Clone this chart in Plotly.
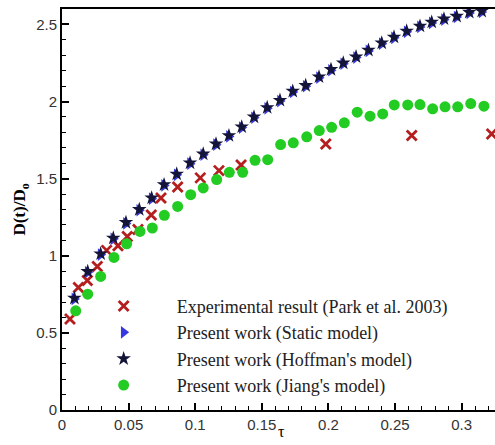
import plotly.graph_objects as go

# Experimental result (Park et al. 2003)
exp_tau = [0.006, 0.0123, 0.019, 0.0265, 0.0335, 0.042, 0.049, 0.057, 0.067, 0.0743,
           0.0868, 0.1038, 0.1178, 0.1344, 0.198, 0.2625, 0.3225]
exp_d = [0.59, 0.794, 0.84, 0.93, 1.035, 1.065, 1.125, 1.17, 1.264, 1.375,
         1.446, 1.505, 1.552, 1.589, 1.725, 1.78, 1.79]

# Present work (Hoffman's model)
hof_tau = [0.0093, 0.0193, 0.029, 0.0385, 0.048, 0.058, 0.0673, 0.0766, 0.0861, 0.0961,
           0.106, 0.1156, 0.1253, 0.1349, 0.1441, 0.154, 0.1636, 0.1732, 0.1829, 0.1929,
           0.2019, 0.2111, 0.2207, 0.23, 0.24, 0.2492, 0.2587, 0.2687, 0.2775, 0.2867,
           0.2962, 0.3057, 0.315]
hof_d = [0.725, 0.898, 1.013, 1.115, 1.216, 1.30, 1.375, 1.461, 1.53, 1.602,
         1.66, 1.725, 1.779, 1.836, 1.90, 1.961, 2.008, 2.067, 2.104, 2.16,
         2.208, 2.25, 2.29, 2.333, 2.38, 2.418, 2.457, 2.489, 2.515, 2.536,
         2.553, 2.579, 2.586]

# Present work (Static model)
sta_tau = [0.0093, 0.0193, 0.029, 0.0385, 0.048, 0.058, 0.0673, 0.0766, 0.0861, 0.0961,
           0.106, 0.1156, 0.1253, 0.1349, 0.1441, 0.154, 0.1636, 0.1732, 0.1829, 0.1929,
           0.2019, 0.2111, 0.2207, 0.23, 0.24, 0.2492, 0.2587, 0.2687, 0.2775, 0.2867,
           0.2962, 0.3057, 0.315]
sta_d = [0.72, 0.893, 1.008, 1.11, 1.21, 1.295, 1.37, 1.456, 1.525, 1.597,
         1.655, 1.72, 1.774, 1.831, 1.895, 1.956, 2.003, 2.062, 2.099, 2.155,
         2.203, 2.245, 2.285, 2.328, 2.375, 2.413, 2.452, 2.484, 2.51, 2.531,
         2.548, 2.574, 2.581]

# Present work (Jiang's model)
jia_tau = [0.0103, 0.0193, 0.029, 0.039, 0.0485, 0.0585, 0.0678, 0.0768, 0.0868, 0.0966,
           0.106, 0.1161, 0.1256, 0.1356, 0.1449, 0.1544, 0.1641, 0.1736, 0.1837, 0.1931,
           0.2024, 0.2119, 0.2216, 0.2312, 0.2407, 0.2494, 0.2595, 0.2687, 0.2782, 0.2875,
           0.297, 0.3068, 0.3167]
jia_d = [0.643, 0.751, 0.866, 0.989, 1.078, 1.158, 1.18, 1.262, 1.32, 1.396,
         1.44, 1.494, 1.541, 1.541, 1.619, 1.623, 1.721, 1.732, 1.771, 1.812,
         1.833, 1.862, 1.931, 1.905, 1.92, 1.978, 1.978, 1.98, 1.953, 1.966,
         1.966, 1.987, 1.97]

names = ["Experimental result (Park et al. 2003)",
         "Present work (Static model)",
         "Present work (Hoffman's model)",
         "Present work (Jiang's model)"]

serif = "Liberation Serif, Times New Roman, serif"

fig = go.Figure()
fig.add_trace(go.Scatter(x=exp_tau, y=exp_d, mode="markers", name=names[0],
                         marker=dict(symbol="x-thin", size=10, line=dict(color="#b41e1e", width=2.8),
                                     color="#b41e1e")))
fig.add_trace(go.Scatter(x=sta_tau, y=sta_d, mode="markers", name=names[1],
                         marker=dict(symbol="triangle-right", size=11, color="#3838e0")))
fig.add_trace(go.Scatter(x=hof_tau, y=hof_d, mode="markers", name=names[2],
                         marker=dict(symbol="star", size=11, color="#141438")))
fig.add_trace(go.Scatter(x=jia_tau, y=jia_d, mode="markers", name=names[3],
                         marker=dict(symbol="circle", size=11, color="#22cc22")))

tickfont = dict(family="Liberation Sans, Arial, sans-serif", size=15, color="#333333")
fig.update_layout(
    width=495, height=445,
    margin=dict(l=62, r=0, t=9, b=35),
    paper_bgcolor="white", plot_bgcolor="white",
    showlegend=True,
    legend=dict(x=0.02, y=0.305, xanchor="left", yanchor="top",
                font=dict(family=serif, size=18, color="#222222"),
                itemwidth=96, bgcolor="rgba(0,0,0,0)", tracegroupgap=0),
    xaxis=dict(range=[0, 0.325], tickvals=[0, 0.05, 0.1, 0.15, 0.2, 0.25, 0.3],
               ticktext=["0", "0.05", "0.1", "0.15", "0.2", "0.25", "0.3"],
               ticks="inside", ticklen=7, tickwidth=2, tickcolor="black",
               minor=dict(dtick=0.01, tick0=0, ticks="inside", ticklen=4, tickwidth=1, tickcolor="black"),
               showline=True, linecolor="black", linewidth=2, mirror=True,
               showgrid=False, zeroline=False, tickfont=tickfont, automargin=False),
    yaxis=dict(range=[0, 2.6], tickvals=[0, 0.5, 1, 1.5, 2, 2.5],
               ticktext=["0", "0.5", "1", "1.5", "2", "2.5"],
               ticks="inside", ticklen=7, tickwidth=2, tickcolor="black",
               minor=dict(dtick=0.1, tick0=0, ticks="inside", ticklen=4, tickwidth=1, tickcolor="black"),
               showline=True, linecolor="black", linewidth=2, mirror=False,
               showgrid=False, zeroline=False, tickfont=tickfont, automargin=False,
               title=dict(text="<b>D(t)/D<sub>o</sub></b>",
                          font=dict(family=serif, size=17, color="black"),
                          standoff=6)),
    annotations=[dict(text="τ", xref="paper", yref="paper", x=0.508, y=-0.027,
                      xanchor="center", yanchor="top", showarrow=False,
                      font=dict(family=serif, size=16, color="black"))],
)

fig.write_html("out.html")
